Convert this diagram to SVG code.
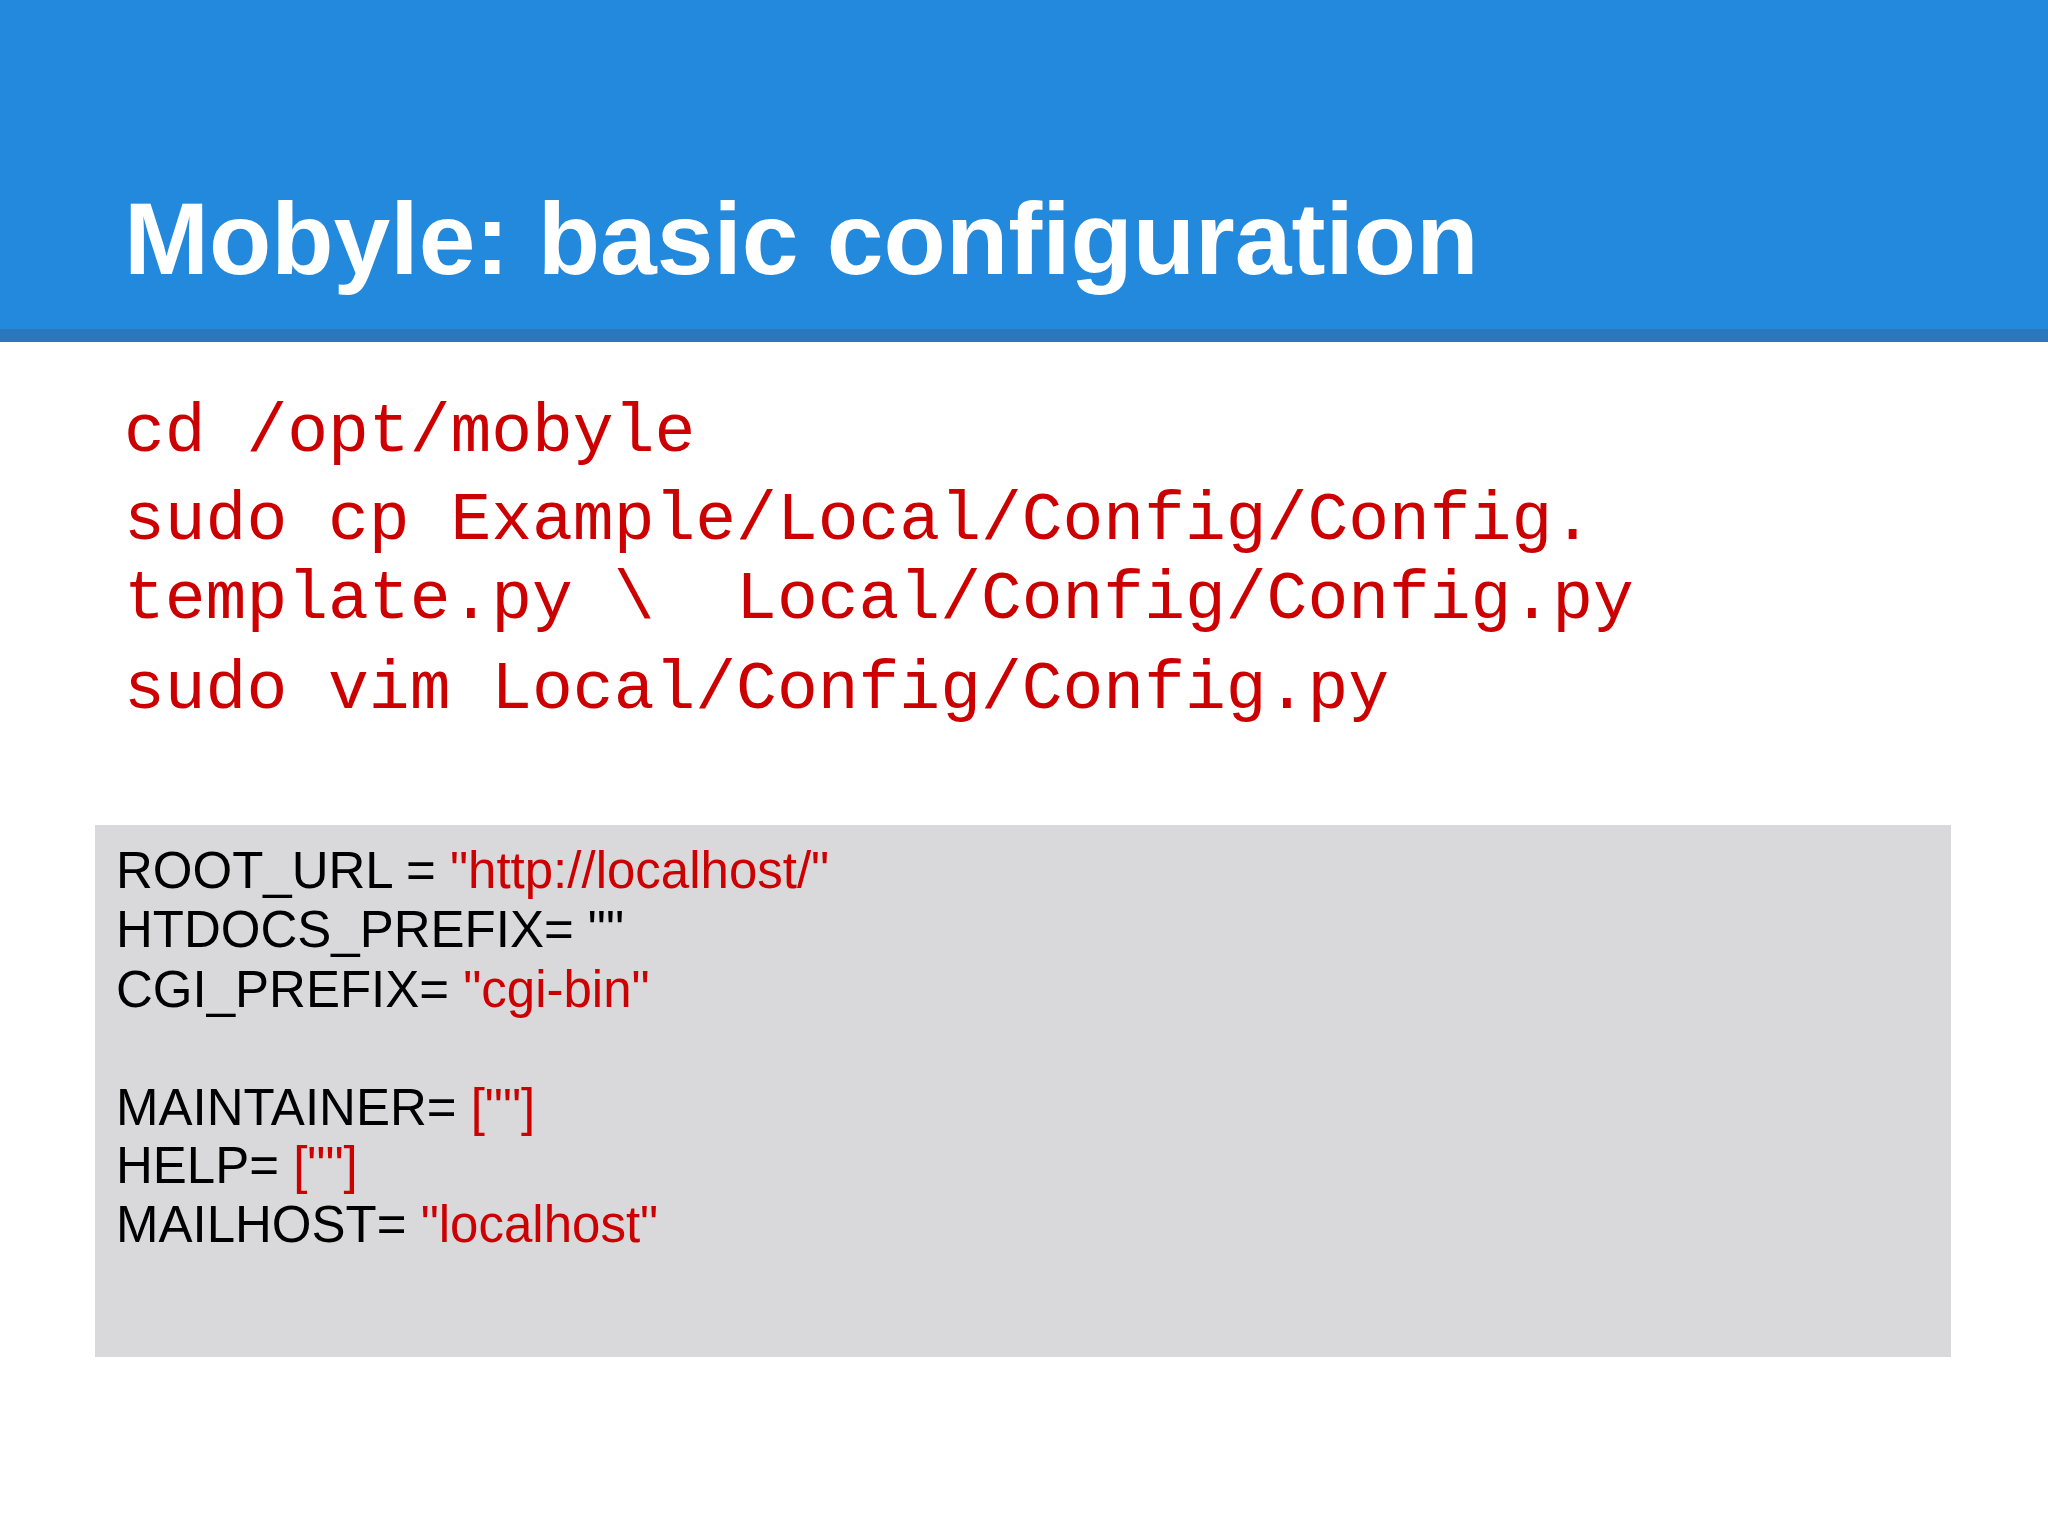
<svg xmlns="http://www.w3.org/2000/svg" width="2048" height="1536" viewBox="0 0 2048 1536">
<style>
.code{font-family:"Liberation Mono",monospace;font-size:68px;fill:#cc0000;white-space:pre}
.cfg{font-family:"Liberation Sans",Arial,sans-serif;font-size:51px;fill:#000}
.r{fill:#cc0000}
</style>
<rect width="2048" height="1536" fill="#fff"/>
<g id="header">
<rect x="0" y="0" width="2048" height="330" fill="#2389dc"/>
<rect x="0" y="329" width="2048" height="13" fill="#2a77bd"/>
<text x="124" y="274" font-family="Liberation Sans,Arial,sans-serif" font-weight="bold" font-size="102" fill="#fff">Mobyle: basic configuration</text>
</g>
<g id="commands">
<text class="code" x="124" y="451">cd /opt/mobyle</text>
<text class="code" x="124" y="539">sudo cp Example/Local/Config/Config.</text>
<text class="code" x="124" y="618" xml:space="preserve">template.py \  Local/Config/Config.py</text>
<text class="code" x="124" y="708">sudo vim Local/Config/Config.py</text>
</g>
<g id="configbox">
<rect x="95" y="825" width="1856" height="532" fill="#d9d8da"/>
<text class="cfg" x="116" y="888">ROOT_URL = <tspan class="r">"http://localhost/"</tspan></text>
<text class="cfg" x="116" y="947">HTDOCS_PREFIX= ""</text>
<text class="cfg" x="116" y="1007">CGI_PREFIX= <tspan class="r">"cgi-bin"</tspan></text>
<text class="cfg" x="116" y="1125">MAINTAINER= <tspan class="r">[""]</tspan></text>
<text class="cfg" x="116" y="1183">HELP= <tspan class="r">[""]</tspan></text>
<text class="cfg" x="116" y="1242">MAILHOST= <tspan class="r">"localhost"</tspan></text>
</g>
</svg>
